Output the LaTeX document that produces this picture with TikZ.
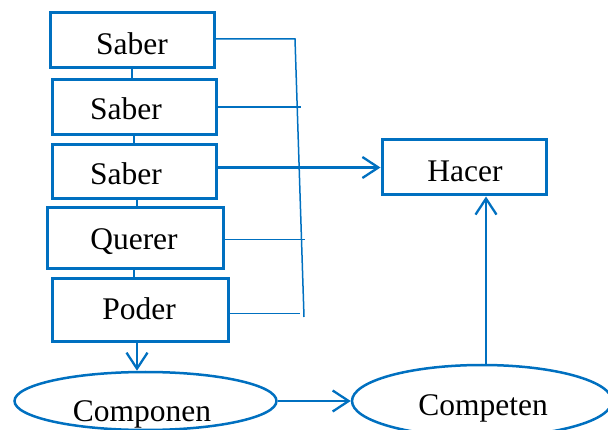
\documentclass[tikz,border=0pt]{standalone}
\usepackage{fontspec}
\setmainfont{Liberation Serif}
\usetikzlibrary{arrows.meta,shapes.geometric}
\definecolor{lineblue}{HTML}{0070C0}
\tikzset{
  box/.style={draw=lineblue, line width=3pt, rectangle, inner sep=0pt},
  oval/.style={draw=lineblue, line width=2.5pt, ellipse, inner sep=0pt},
  txt/.style={anchor=base, inner sep=0pt, font=\fontsize{31.5}{37}\selectfont, text=black},
  thin/.style={draw=lineblue, line width=1.5pt},
  link/.style={draw=lineblue, line width=1.8pt},
  arr/.style={draw=lineblue, line width=2.3pt, -{Straight Barb[length=16pt,width=21pt,line width=2.3pt]}}
}
\begin{document}
\begin{tikzpicture}[x=1pt,y=-1pt]
\useasboundingbox (0,0) rectangle (608,430);
% boxes
\node[box, minimum width=164pt, minimum height=55pt] (s1) at (132,40.5) {};
\node[box, minimum width=164pt, minimum height=55pt] (s2) at (134,107.5) {};
\node[box, minimum width=164pt, minimum height=54pt] (s3) at (134,172) {};
\node[box, minimum width=176pt, minimum height=61pt] (q) at (135,238.5) {};
\node[box, minimum width=176pt, minimum height=63pt] (p) at (140,310.5) {};
\node[box, minimum width=164pt, minimum height=55pt] (h) at (464,167.5) {};
\node[oval, minimum width=262pt, minimum height=58pt] (comp) at (145.5,401) {};
\node[oval, minimum width=260pt, minimum height=72pt] (cpt) at (482,401) {};
% texts
\node[txt] (t1) at (132,55) {Saber};
\node[txt] (t2) at (126,120) {Saber};
\node[txt] (t3) at (126,185) {Saber};
\node[txt] (t4) at (134,250) {Querer};
\node[txt] (t5) at (139,320) {Poder};
\node[txt] (t6) at (465,182) {Hacer};
\node[txt] (t7) at (142,421) {Componen};
\node[txt] (t8) at (483,415) {Competen};
% links between stacked boxes
\draw[link] (s1.south) -- (s1.south |- s2.north);
\draw[link] (s2.south) -- (s2.south |- s3.north);
\draw[link] ([xshift=3pt]s3.south) -- ([xshift=3pt]s3.south |- q.north);
\draw[link] ([xshift=-1pt]q.south) -- ([xshift=-1pt]q.south |- p.north);
% bracket on the right
\coordinate (b1) at (295,39);
\coordinate (b2) at (301,107);
\coordinate (bq) at (305,239.5);
\coordinate (bp) at (300,313.5);
\coordinate (bend) at (304,317);
\draw[thin] (s1.east |- b1) -- (b1) -- (bend);
\draw[thin] (s2.east |- b2) -- (b2);
\draw[thin] (q.east |- bq) -- (bq);
\draw[thin] (p.east |- bp) -- (bp);
% arrows
\draw[arr] (s3.east |- h.west) -- (h.west);
\draw[arr] ([xshift=-3pt]p.south) -- ([xshift=-3pt]p.south |- comp.north);
\draw[arr] (comp.east) -- (cpt.west);
\draw[arr] ([xshift=4pt]cpt.north) -- ([xshift=4pt]cpt.north |- h.south);
\end{tikzpicture}
\end{document}
